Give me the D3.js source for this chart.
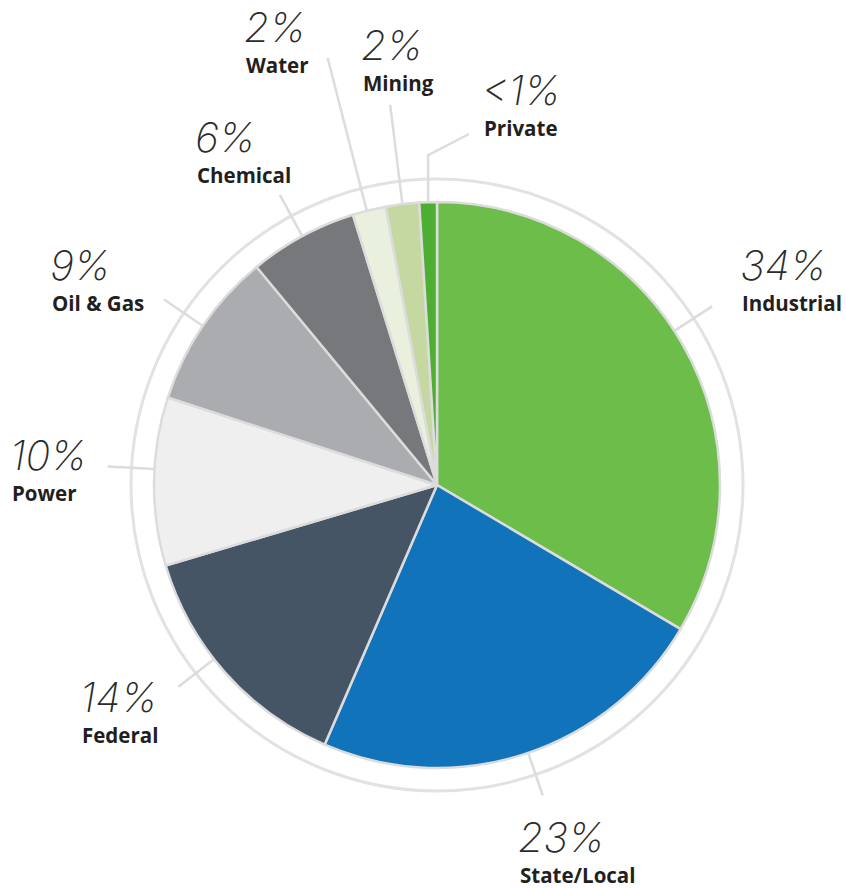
<!DOCTYPE html>
<html><head><meta charset="utf-8">
<script src="https://cdn.jsdelivr.net/npm/d3@7"></script>
<style>
html,body{margin:0;padding:0;background:#fff;}
svg{display:block;}
.pct{font-family:Inter,Lato,sans-serif;font-weight:200;font-style:italic;font-size:41px;fill:#2b2b2b;}
.name{font-family:"Open Sans",Lato,sans-serif;font-weight:700;font-size:20.5px;fill:#231f20;}
</style></head>
<body>
<script>
// Data
const categories = ["Industrial","State/Local","Federal","Power","Oil & Gas","Chemical","Water","Mining","Private"];
const values = [33.5, 23, 13.9, 9.6, 9, 6.2, 1.9, 1.9, 1.0];
const pctLabels = ["34%","23%","14%","10%","9%","6%","2%","2%","<1%"];
const colors = ["#6cbd4a","#1173ba","#455565","#efefef","#abacaf","#77787c","#e9f1de","#c6d8a2","#4dae31"];

// Layout (label anchors, leader lengths, leader angle nudges in degrees)
const labelPos = [[742,280],[520,852],[82,712],[12,470],[52,280],[197,152],[246,42],[363,60],[484,105]];
const leaderOuter = [328,328,328,330,330,330,441,383,330];
const leaderShift = [-3.3,-0.8,3.6,2.5,0,0,-0.5,0,0];

const W=846,H=888, cx=437, cy=485, R=283, ringR=306;
const svg=d3.select("body").append("svg").attr("width",W).attr("height",H);

const pie=d3.pie().sort(null).value(d=>d.v);
const data=categories.map((c,i)=>({name:c,v:values[i],pct:pctLabels[i],color:colors[i],lp:labelPos[i],lo:leaderOuter[i],ls:leaderShift[i]}));
const arcs=pie(data);
const arc=d3.arc().innerRadius(0).outerRadius(R);
const g=svg.append("g").attr("transform",`translate(${cx},${cy})`);

// outer ring
g.append("circle").attr("r",ringR).attr("fill","none").attr("stroke","#e2e2e3").attr("stroke-width",3);

// leaders
const pt=(a,r)=>[r*Math.sin(a), -r*Math.cos(a)];
arcs.forEach((d,i)=>{
  const a=(d.startAngle+d.endAngle)/2 + d.data.ls*Math.PI/180;
  const p0=pt(a,R), p1=pt(a,d.data.lo);
  let pts=[p0,p1];
  if(d.data.name==="Private"){
    pts=[p0,[p0[0],p1[1]],[d.data.lp[0]-cx-15,d.data.lp[1]+29-cy]];
  }
  g.append("path").attr("d",d3.line()(pts)).attr("fill","none").attr("stroke","#dcdcdd").attr("stroke-width",2.5);
});

// slices
g.selectAll("path.slice").data(arcs).join("path").attr("class","slice")
 .attr("d",arc).attr("fill",d=>d.data.color).attr("stroke","#dcdcdd").attr("stroke-width",2.5).attr("stroke-linejoin","round");

// labels
const lg=svg.append("g");
data.forEach(d=>{
  lg.append("text").attr("class","pct").attr("x",d.lp[0]-2).attr("y",d.lp[1]).text(d.pct);
  lg.append("text").attr("class","name").attr("x",d.lp[0]).attr("y",d.lp[1]+31).text(d.name);
});
</script>
</body></html>
